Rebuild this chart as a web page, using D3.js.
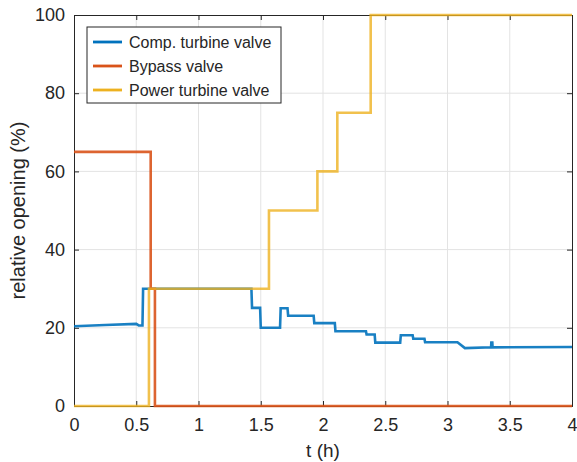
<!DOCTYPE html>
<html>
<head>
<meta charset="utf-8">
<script src="https://cdn.jsdelivr.net/npm/d3@7"></script>
<style>
  body { margin: 0; background: #fff; }
  text { font-family: "Liberation Sans", Arial, sans-serif; fill: #262626; }
</style>
</head>
<body>
<div id="chart"></div>
<script>
// data
const xTicks = [0, 0.5, 1, 1.5, 2, 2.5, 3, 3.5, 4];
const yTicks = [0, 20, 40, 60, 80, 100];

const compT = [0, 0.25, 0.5, 0.52, 0.55, 0.555, 1.425, 1.43, 1.495, 1.5, 1.655, 1.66, 1.715, 1.72,
  1.925, 1.93, 2.095, 2.1, 2.345, 2.35, 2.415, 2.42, 2.62, 2.625, 2.72, 2.725, 2.815, 2.82,
  3.08, 3.14, 3.35, 3.352, 3.36, 3.362, 4];
const compV = [20.4, 20.7, 21.0, 20.6, 20.6, 30, 30, 25.1, 25.1, 20.0, 20.0, 25.0, 25.0, 23.1,
  23.1, 21.2, 21.2, 19.1, 19.1, 18.3, 18.3, 16.2, 16.2, 18.1, 18.1, 17.2, 17.2, 16.3,
  16.3, 14.8, 15.0, 16.2, 16.2, 15.0, 15.1];

const bypassT = [0, 0.616, 0.616, 0.65, 0.65, 4];
const bypassV = [65, 65, 30, 30, 0, 0];

const powerT = [0, 0.602, 0.602, 1.566, 1.566, 1.955, 1.955, 2.115, 2.115, 2.383, 2.383, 4];
const powerV = [0, 0, 30, 30, 50, 50, 60, 60, 75, 75, 100, 100];

const seriesNames = ["Comp. turbine valve", "Bypass valve", "Power turbine valve"];
const seriesColors = ["#0072BD", "#D95319", "#EDB120"];

// 画布
const W = 577, H = 462;
const margin = {top: 15, right: 5, bottom: 56, left: 74};
const width = W - margin.left - margin.right;
const height = H - margin.top - margin.bottom;

const svg = d3.select("#chart").append("svg")
    .attr("width", W)
    .attr("height", H);
const chart = svg.append("g")
    .attr("transform", "translate(" + margin.left + "," + margin.top + ")");

const x = d3.scaleLinear().domain([0, 4]).range([0, width]);
const y = d3.scaleLinear().domain([0, 100]).range([height, 0]);

// grid
chart.append("g").selectAll("line").data(xTicks.slice(1, -1)).enter().append("line")
    .attr("x1", d => x(d)).attr("x2", d => x(d))
    .attr("y1", 0).attr("y2", height)
    .attr("stroke", "#e3e3e3").attr("stroke-width", 1);
chart.append("g").selectAll("line").data(yTicks.slice(1, -1)).enter().append("line")
    .attr("y1", d => y(d)).attr("y2", d => y(d))
    .attr("x1", 0).attr("x2", width)
    .attr("stroke", "#e3e3e3").attr("stroke-width", 1);

// axes
const xAxis = d3.axisBottom(x).tickValues(xTicks).tickSize(-5).tickPadding(12).tickFormat(d3.format("~g"));
const yAxis = d3.axisLeft(y).tickValues(yTicks).tickSize(-5).tickPadding(9);
const xTop = d3.axisTop(x).tickValues(xTicks).tickSize(-5).tickFormat("");
const yRight = d3.axisRight(y).tickValues(yTicks).tickSize(-5).tickFormat("");

const styleAxis = function (g) {
    g.select(".domain").attr("stroke", "#262626").attr("stroke-width", 1);
    g.selectAll(".tick line").attr("stroke", "#262626");
    g.selectAll(".tick text").style("font-size", "18px").attr("fill", "#262626");
};
chart.append("g").attr("transform", "translate(0," + height + ")").call(xAxis).call(styleAxis);
chart.append("g").call(yAxis).call(styleAxis);
chart.append("g").call(xTop).call(styleAxis);
chart.append("g").attr("transform", "translate(" + width + ",0)").call(yRight).call(styleAxis);

// lines
const line = d3.line().x(d => x(d[0])).y(d => y(d[1]));
const series = [
    d3.zip(compT, compV),
    d3.zip(bypassT, bypassV),
    d3.zip(powerT, powerV)
];
series.forEach(function (s, i) {
    chart.append("path")
        .datum(s)
        .attr("d", line)
        .attr("fill", "none")
        .attr("stroke", seriesColors[i])
        .attr("stroke-width", 2.6)
        .attr("stroke-opacity", i === 2 ? 0.8 : 0.9);
});

// axis labels
svg.append("text")
    .attr("x", margin.left + width / 2).attr("y", 457)
    .attr("text-anchor", "middle").style("font-size", "19px")
    .text("t (h)");
svg.append("text")
    .attr("transform", "translate(25," + (margin.top + height / 2) + ") rotate(-90)")
    .attr("text-anchor", "middle").style("font-size", "20px")
    .text("relative opening (%)");

// legend
const legend = svg.append("g");
legend.append("rect")
    .attr("x", 87).attr("y", 27).attr("width", 194).attr("height", 76)
    .attr("fill", "#fff").attr("stroke", "#262626").attr("stroke-width", 1);
seriesNames.forEach(function (name, i) {
    const ly = 42 + i * 24;
    legend.append("line")
        .attr("x1", 93).attr("x2", 122).attr("y1", ly).attr("y2", ly)
        .attr("stroke", seriesColors[i]).attr("stroke-width", 2.8);
    legend.append("text")
        .attr("x", 129).attr("y", ly + 6)
        .style("font-size", "16px")
        .text(name);
});
</script>
</body>
</html>
